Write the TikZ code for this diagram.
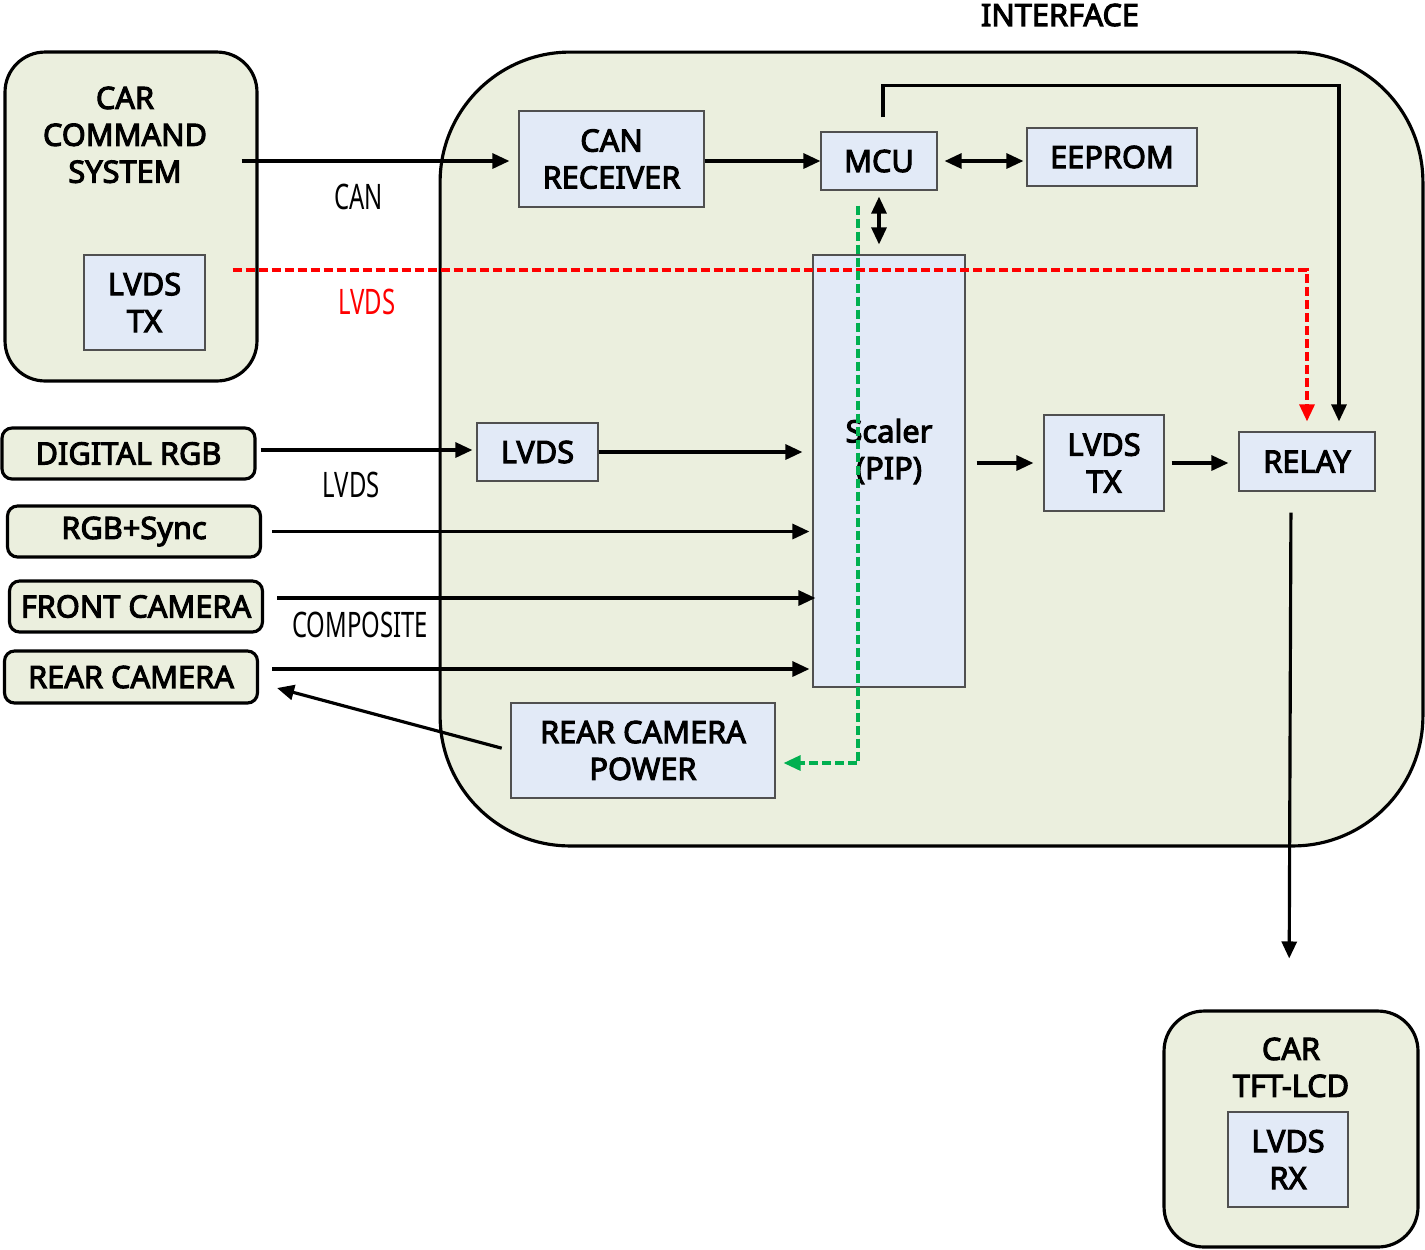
\documentclass[tikz,border=0pt]{standalone}
\usepackage{fontspec}
\setmainfont{Noto Sans}[AutoFakeBold=3.4]
\newfontfamily\narrowfont[FakeStretch=0.68]{Noto Sans}
\usepackage{tikz}
\usetikzlibrary{arrows.meta,positioning}
\definecolor{sysfill}{HTML}{EBEFDE}
\definecolor{blkfill}{HTML}{E2EAF7}
\definecolor{blkline}{HTML}{505050}
\definecolor{sigred}{HTML}{FF0000}
\definecolor{siggreen}{HTML}{00B050}

\begin{document}
\begin{tikzpicture}[x=0.02cm,y=-0.02cm,
  font=\bfseries\fontsize{17.5}{21}\selectfont,
  sysbox/.style={draw, line width=1.8pt, fill=sysfill, rounded corners=0.8cm},
  srcbox/.style={draw, line width=1.8pt, fill=sysfill, rounded corners=0.2cm, minimum width=5.06cm, minimum height=1.02cm},
  blk/.style={draw=blkline, line width=0.7pt, fill=blkfill, align=center},
  arr/.style={line width=1.8pt, -{Triangle[length=0.34cm,width=0.3cm]}},
  biarr/.style={line width=1.8pt, {Triangle[length=0.34cm,width=0.3cm]}-{Triangle[length=0.34cm,width=0.3cm]}},
  lvdsarr/.style={draw=sigred, line width=1.8pt, dash pattern=on 0.18cm off 0.08cm, -{Triangle[length=0.34cm,width=0.3cm]}},
  pwrarr/.style={draw=siggreen, line width=1.8pt, dash pattern=on 0.18cm off 0.08cm, -{Triangle[length=0.34cm,width=0.3cm]}},
  sig/.style={font=\narrowfont\fontsize{20}{24}\selectfont, inner sep=0pt}]
\useasboundingbox (0,0) rectangle (1425,1249);

\node[sysbox, rounded corners=2.6cm, minimum width=19.66cm, minimum height=15.88cm] (iface) at (931.5,449) {};
\node (ifacetxt) at (1060,15) {INTERFACE};

\node[sysbox, minimum width=5.04cm, minimum height=6.58cm,
  label={[align=center, xshift=-0.12cm, below=0.6cm]north:CAR\\COMMAND\\SYSTEM}] (ccs) at (131,216.5) {};
\node[blk, minimum width=2.42cm, minimum height=1.9cm] (ccstx) at (144.5,302.5) {LVDS\\TX};

\node[blk, minimum width=3.7cm, minimum height=1.92cm] (canrx) at (611.5,159) {CAN\\RECEIVER};
\node[blk, minimum width=2.32cm, minimum height=1.16cm] (mcu) at (879,161) {MCU};
\node[blk, minimum width=3.4cm, minimum height=1.16cm] (eeprom) at (1112,157) {EEPROM};
\node[blk, minimum width=3.04cm, minimum height=8.64cm,
  label={[align=center, yshift=0.39cm]center:Scaler\\(PIP)}] (scaler) at (889,471) {};
\node[blk, minimum width=2.42cm, minimum height=1.16cm] (lvdsin) at (537.5,452) {LVDS};
\node[blk, minimum width=2.4cm, minimum height=1.92cm] (lvdstx) at (1104,463) {LVDS\\TX};
\node[blk, minimum width=2.72cm, minimum height=1.18cm] (relay) at (1307,461.5) {RELAY};
\node[blk, minimum width=5.28cm, minimum height=1.9cm] (rcpow) at (643,750.5) {REAR CAMERA\\POWER};

\node[srcbox] (drgb) at (128.5,453.5) {DIGITAL RGB};
\node[srcbox] (rgbs) at (134,531.5) {RGB+Sync};
\node[srcbox] (fcam) at (136,606.5) {FRONT CAMERA};
\node[srcbox, minimum height=1.04cm] (rcam) at (131,677) {REAR CAMERA};

\node[sysbox, minimum width=5.08cm, minimum height=4.72cm,
  label={[align=center, below=0.44cm]north:CAR\\TFT-LCD}] (lcd) at (1291,1129) {};
\node[blk, minimum width=2.4cm, minimum height=1.9cm] (lcdrx) at (1288,1159.5) {LVDS\\RX};

\draw[arr, shorten <=-0.34cm, shorten >=0.18cm] (ccs.east |- mcu.west) -- (canrx.west |- mcu.west) node[sig, pos=0.385, below=0.43cm] {CAN};
\draw[arr] (canrx.east |- mcu.west) -- (mcu.west);
\draw[biarr, shorten <=0.14cm, shorten >=0.06cm] (mcu.east) -- (mcu.east -| eeprom.west);
\draw[biarr, shorten <=0.12cm, shorten >=0.2cm] (mcu.south) -- (mcu.south |- scaler.north);
\draw[arr, shorten <=0.28cm, shorten >=0.2cm] ([xshift=0.08cm]mcu.north) -- ++(0,-46) -| ([xshift=0.64cm]relay.north);
\draw[lvdsarr, shorten >=0.2cm] ([xshift=0.54cm, yshift=0.65cm]ccstx.east) -| (relay.north) node[sig, text=sigred, pos=0.0625, below=0.35cm] {LVDS};
\draw[pwrarr, shorten <=0.3cm, shorten >=0.16cm] ([xshift=-0.42cm]mcu.south) |- ([yshift=-0.25cm]rcpow.east);

\draw[arr, shorten <=0.08cm, shorten >=0.08cm] ([yshift=0.07cm]drgb.east) -- ([yshift=0.07cm]drgb.east -| lvdsin.west) node[sig, pos=0.43, below=0.41cm] {LVDS};
\draw[arr, shorten >=0.2cm] (lvdsin.east) -- (lvdsin.east -| scaler.west);
\draw[arr, shorten <=0.2cm, shorten >=0.06cm] (rgbs.east) -- (rgbs.east -| scaler.west);
\draw[arr, shorten <=0.26cm, shorten >=-0.06cm] ([yshift=0.17cm]fcam.east) -- ([yshift=0.17cm]fcam.east -| scaler.west) node[sig, pos=0.175, below=0.25cm] {COMPOSITE};
\draw[arr, shorten <=0.26cm, shorten >=0.06cm] ([yshift=0.16cm]rcam.east) -- ([yshift=0.16cm]rcam.east -| scaler.west);
\draw[arr, shorten <=0.18cm] (rcpow.west) -- ([xshift=0.36cm, yshift=-0.22cm]rcam.east);

\draw[arr, shorten <=0.22cm, shorten >=0.2cm] (scaler.east |- lvdstx.west) -- (lvdstx.west);
\draw[arr, shorten <=0.14cm, shorten >=0.2cm] (lvdstx.east) -- (lvdstx.east -| relay.west);
\draw[arr, shorten <=0.42cm, shorten >=1.02cm] ([xshift=-0.32cm]relay.south) -- ([xshift=-0.04cm]lcd.north);
\end{tikzpicture}
\end{document}
